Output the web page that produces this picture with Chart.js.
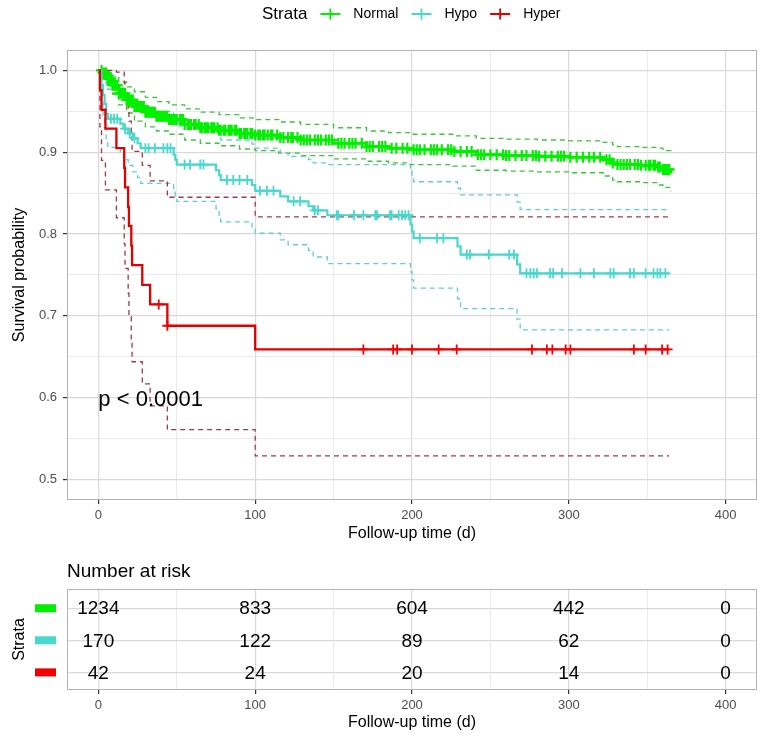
<!DOCTYPE html>
<html lang="en">
<head>
<meta charset="UTF-8">
<title>Survival curves</title>
<script src="https://cdn.jsdelivr.net/npm/chart.js"></script>
<style>
  body { margin: 0; background: #fff; }
  #wrap { position: relative; width: 765px; height: 746px; }
  #curves { position: absolute; left: 0; top: 0; }
  #risk { position: absolute; left: 0; top: 545px; }
</style>
</head>
<body>
<div id="wrap">
  <canvas id="curves" width="765" height="545"></canvas>
  <canvas id="risk" width="765" height="201"></canvas>
</div>

<script>
// ---- data ----
const strata = ['Normal', 'Hypo', 'Hyper'];

// Normal (n = 1234)
const normalTime  = [0, 3, 6, 9, 13, 18, 23, 30, 37, 45, 55, 65, 77, 90, 100, 115, 129, 150, 171, 185, 199, 226, 241, 260, 280, 300, 322, 328, 331, 345, 356, 360, 365];
const normalSurv  = [1, .997, .990, .982, .972, .964, .956, .949, .944, .940, .934, .930, .927, .923, .921, .918, .915, .911, .907, .905, .903, .901, .897, .896, .895, .894, .891, .887, .885, .884, .882, .879, .874];
const normalUpper = [1, 1, .998, .993, .986, .980, .974, .967, .962, .958, .953, .949, .946, .942, .940, .937, .934, .930, .926, .924, .922, .920, .917, .916, .915, .914, .912, .909, .907, .906, .905, .902, .899];
const normalLower = [1, .994, .982, .971, .958, .948, .938, .931, .926, .922, .915, .911, .908, .904, .902, .899, .896, .892, .889, .887, .885, .883, .878, .877, .876, .875, .871, .866, .864, .863, .860, .857, .852];
const normalCensor = [2, 3, 4, 5, 6, 7, 8, 9, 10, 11, 12, 13, 14, 15, 16, 17, 18, 19, 20, 21, 22, 23, 24, 25, 26, 27, 28, 29, 30, 31, 32, 33, 34, 35, 36, 37, 38, 39, 40, 41, 42, 43, 44, 45, 46, 47, 48, 49, 50, 52, 53, 54, 55, 57, 58, 59, 61, 62, 64, 65, 66, 68, 69, 70, 72, 73, 74, 76, 77, 78, 80, 81, 83, 84, 85, 87, 88, 90, 91, 93, 94, 95, 97, 98, 100, 102, 103, 105, 106, 108, 110, 111, 114, 116, 118, 121, 123, 124, 127, 129, 131, 133, 135, 138, 140, 142, 145, 147, 149, 153, 155, 157, 160, 162, 164, 168, 171, 173, 175, 179, 181, 183, 187, 190, 194, 197, 201, 203, 205, 208, 212, 214, 216, 219, 223, 225, 227, 231, 235, 238, 242, 244, 246, 250, 254, 258, 260, 262, 266, 270, 273, 277, 279, 281, 285, 289, 293, 295, 297, 301, 305, 309, 313, 316, 320, 324, 326, 328, 331, 333, 335, 337, 339, 342, 344, 346, 349, 351, 352, 354, 355, 357, 358, 360, 361, 362, 363, 364];

// Hypo (n = 170)
const hypoTime  = [0, 2, 3, 4, 5, 6, 14, 16, 19, 22, 25, 27, 48, 49, 50, 75, 77, 78, 98, 100, 116, 121, 134, 137, 146, 199, 200, 201, 229, 231, 267, 269, 364];
const hypoSurv  = [1, .982, .970, .959, .947, .941, .935, .929, .923, .917, .911, .905, .897, .891, .885, .878, .872, .866, .860, .853, .846, .840, .834, .829, .823, .812, .803, .795, .785, .775, .763, .752, .752];
const hypoUpper = [1, 1, .996, .990, .981, .977, .973, .969, .964, .960, .955, .950, .944, .938, .932, .926, .920, .915, .910, .905, .899, .895, .891, .887, .885, .877, .870, .864, .856, .848, .839, .830, .830];
const hypoLower = [1, .962, .945, .930, .914, .906, .899, .891, .884, .876, .869, .862, .853, .846, .840, .831, .823, .815, .808, .801, .793, .787, .780, .772, .764, .754, .744, .734, .721, .709, .696, .683, .683];
const hypoCensor = [8, 10, 12, 17, 20, 23, 30, 32, 36, 41.5, 44, 46, 55, 58.5, 65, 67, 82, 86, 90, 95, 103, 107.5, 111.7, 124.5, 128.7, 138, 140, 152, 153, 163, 169, 176.6, 177.7, 186, 187, 191.5, 193.6, 195.7, 197.8, 205, 216, 220, 235, 237, 249, 262, 265, 273, 275.5, 277.6, 279.7, 288, 290, 295.7, 307.4, 316, 326.5, 328.6, 339, 341.5, 349, 354, 356.5, 358.4, 361.6];

// Hyper (n = 42)
const hyperTime  = [0, 1, 2, 4.5, 11.5, 16.5, 17, 19, 19.5, 21, 21.5, 28, 33, 44, 100, 364];
const hyperSurv  = [1, .976, .952, .929, .905, .881, .857, .833, .810, .786, .762, .738, .714, .688, .659, .659];
const hyperUpper = [1, 1, 1, 1, .998, .985, .969, .954, .938, .920, .901, .884, .865, .845, .821, .821];
const hyperLower = [1, .931, .890, .854, .820, .788, .758, .728, .699, .671, .644, .617, .590, .561, .529, .529];
const hyperCensor = [38.5, 44, 169, 188, 190.5, 200, 217, 228.5, 276.5, 286, 289.5, 298, 301, 341.5, 349, 359.5, 363];

// number at risk
const riskTimes  = [0, 100, 200, 300, 400];
const riskNormal = [1234, 833, 604, 442, 0];
const riskHypo   = [170, 122, 89, 62, 0];
const riskHyper  = [42, 24, 20, 14, 0];

// axes
const xMajor = [0, 100, 200, 300, 400];
const xMinor = [50, 150, 250, 350];
const yMajor = [0.5, 0.6, 0.7, 0.8, 0.9, 1.0];
const yMinor = [0.55, 0.65, 0.75, 0.85, 0.95];

const pvalText = 'p < 0.0001';
const pvalX = 0;
const pvalY = 0.597;

// ---- styling ----
const FONT = '"Liberation Sans", Arial, Helvetica, sans-serif';
Chart.defaults.font.family = FONT;

const colNormal = '#00F000';
const colHypo = '#48D8CE';
const colHyper = '#E00000';
const ciNormal = '#3CC23C';
const ciHypo = '#62CEC8';
const ciHyper = '#9E3A48';

function pairs(times, values) {
    return times.map((t, i) => ({ x: t, y: values[i] }));
}

function survAt(times, values, t) {
    let s = values[0];
    for (let i = 0; i < times.length; i++) {
        if (times[i] <= t) s = values[i];
    }
    return s;
}

function censorPoints(times, values, marks) {
    return marks.map(t => ({ x: t, y: survAt(times, values, t) }));
}

function curve(data, color, width, order) {
    return { data: data, showLine: true, stepped: true, borderColor: color, borderWidth: width,
             pointRadius: 0, fill: false, order: order };
}

function ciLine(data, color, order) {
    return { data: data, showLine: true, stepped: true, borderColor: color, borderWidth: 1.3,
             borderDash: [5, 4], pointRadius: 0, fill: false, order: order };
}

function marks(data, color, size, width, order) {
    return { data: data, showLine: false, pointStyle: 'cross', pointRadius: size, pointHoverRadius: size,
             borderColor: color, backgroundColor: color, borderWidth: width, order: order };
}

function isIn(list, v) {
    return list.some(m => Math.abs(m - v) < 1e-6);
}

function xScaleOptions() {
    return {
        type: 'linear',
        min: -20,
        max: 420,
        afterBuildTicks: s => { s.ticks = xMajor.concat(xMinor).sort((a, b) => a - b).map(v => ({ value: v })); },
        ticks: {
            autoSkip: false, maxRotation: 0, padding: 4,
            color: '#4D4D4D', font: { size: 13 },
            callback: v => isIn(xMajor, v) ? String(v) : ''
        },
        grid: {
            color: c => isIn(xMajor, c.tick.value) ? '#D9D9D9' : '#E8E8E8',
            lineWidth: c => isIn(xMajor, c.tick.value) ? 1.2 : 0.9,
            tickColor: c => isIn(xMajor, c.tick.value) ? '#333333' : 'rgba(0,0,0,0)',
            tickLength: 4,
            drawTicks: true
        },
        border: { display: false },
        title: { display: true, text: 'Follow-up time (d)', color: '#000', font: { size: 16 }, padding: { top: 0, bottom: 2 } }
    };
}

const panelBorder = {
    id: 'panelBorder',
    afterDraw(chart) {
        const a = chart.chartArea, c = chart.ctx;
        c.save();
        c.strokeStyle = '#B3B3B3';
        c.lineWidth = 1;
        c.strokeRect(a.left + 0.5, a.top + 0.5, a.right - a.left - 1, a.bottom - a.top - 1);
        c.restore();
    }
};

// legend + p value on the survival panel
const curveExtras = {
    id: 'curveExtras',
    afterDraw(chart) {
        const c = chart.ctx;
        c.save();
        c.fillStyle = '#000';
        c.textBaseline = 'middle';
        c.textAlign = 'left';
        c.font = '17px ' + FONT;
        let x = 262;
        const y = 14;
        c.fillText('Strata', x, y);
        x += c.measureText('Strata').width + 13;
        const cols = [colNormal, colHypo, colHyper];
        strata.forEach((name, i) => {
            c.strokeStyle = cols[i];
            c.lineWidth = 1.8;
            c.beginPath();
            c.moveTo(x, y); c.lineTo(x + 20, y);
            c.moveTo(x + 10, y - 5.5); c.lineTo(x + 10, y + 5.5);
            c.stroke();
            x += 33;
            c.font = '14px ' + FONT;
            c.fillStyle = '#000';
            c.fillText(name, x, y);
            x += c.measureText(name).width + 13;
        });

        const xs = chart.scales.x, ys = chart.scales.y;
        c.font = '22px ' + FONT;
        c.fillText(pvalText, xs.getPixelForValue(pvalX), ys.getPixelForValue(pvalY));
        c.restore();
    }
};

const ctx = document.getElementById('curves');

let curvesChart = new Chart(ctx, {
    type: 'scatter',
    data: {
        datasets: [
            marks(censorPoints(hyperTime, hyperSurv, hyperCensor), '#F00000', 5, 1.8, 0),
            curve(pairs(hyperTime, hyperSurv), colHyper, 2.3, 1),
            marks(censorPoints(hypoTime, hypoSurv, hypoCensor), colHypo, 5, 1.8, 2),
            curve(pairs(hypoTime, hypoSurv), colHypo, 2.2, 3),
            marks(censorPoints(normalTime, normalSurv, normalCensor), colNormal, 5.5, 2.2, 4),
            curve(pairs(normalTime, normalSurv), colNormal, 3, 5),
            ciLine(pairs(hyperTime, hyperUpper), ciHyper, 6),
            ciLine(pairs(hyperTime, hyperLower), ciHyper, 7),
            ciLine(pairs(hypoTime, hypoUpper), ciHypo, 8),
            ciLine(pairs(hypoTime, hypoLower), ciHypo, 9),
            ciLine(pairs(normalTime, normalUpper), ciNormal, 10),
            ciLine(pairs(normalTime, normalLower), ciNormal, 11)
        ]
    },
    options: {
        responsive: false,
        animation: false,
        events: [],
        layout: { padding: { top: 50, right: 8, left: 0, bottom: 0 } },
        plugins: { legend: { display: false }, tooltip: { enabled: false } },
        scales: {
            x: Object.assign(xScaleOptions(), { afterFit: s => { s.height = 45; } }),
            y: {
                type: 'linear',
                min: 0.475,
                max: 1.025,
                afterFit: s => { s.width = 67; },
                afterBuildTicks: s => { s.ticks = yMajor.concat(yMinor).sort((a, b) => a - b).map(v => ({ value: v })); },
                ticks: {
                    autoSkip: false, padding: 6,
                    color: '#4D4D4D', font: { size: 13 },
                    callback: v => isIn(yMajor, v) ? v.toFixed(1) : ''
                },
                grid: {
                    color: c => isIn(yMajor, c.tick.value) ? '#D9D9D9' : '#E8E8E8',
                    lineWidth: c => isIn(yMajor, c.tick.value) ? 1.2 : 0.9,
                    tickColor: c => isIn(yMajor, c.tick.value) ? '#333333' : 'rgba(0,0,0,0)',
                    tickLength: 4,
                    drawTicks: true
                },
                border: { display: false },
                title: { display: true, text: 'Survival probability', color: '#000', font: { size: 16 }, padding: { top: 10, bottom: 0 } }
            }
        }
    },
    plugins: [panelBorder, curveExtras]
});

// ---- number at risk table ----
const riskRows = [3, 2, 1];
const riskCounts = [riskNormal, riskHypo, riskHyper];
const riskColors = ['#00EE00', '#48D8CE', '#F00000'];

const riskExtras = {
    id: 'riskExtras',
    afterDraw(chart) {
        const c = chart.ctx;
        const a = chart.chartArea;
        c.save();
        c.fillStyle = '#000';
        c.textBaseline = 'middle';
        c.textAlign = 'left';
        c.font = '19px ' + FONT;
        c.fillText('Number at risk', a.left, 27);

        c.textAlign = 'center';
        chart.data.datasets.forEach((ds, i) => {
            const meta = chart.getDatasetMeta(i);
            meta.data.forEach((pt, j) => {
                c.fillStyle = '#000';
                c.fillText(String(riskCounts[i][j]), pt.x, pt.y + 1);
            });
            const yy = chart.scales.y.getPixelForValue(riskRows[i]);
            c.fillStyle = riskColors[i];
            c.fillRect(35, yy - 4, 21, 8);
        });
        c.restore();
    }
};

const cty = document.getElementById('risk');

let riskChart = new Chart(cty, {
    type: 'scatter',
    data: {
        datasets: riskCounts.map((counts, i) => ({
            data: riskTimes.map(t => ({ x: t, y: riskRows[i] })),
            pointRadius: 0,
            showLine: false
        }))
    },
    options: {
        responsive: false,
        animation: false,
        events: [],
        layout: { padding: { top: 44, right: 8, left: 0, bottom: 0 } },
        plugins: { legend: { display: false }, tooltip: { enabled: false } },
        scales: {
            x: Object.assign(xScaleOptions(), {
                afterFit: s => { s.height = 56; },
                title: { display: true, text: 'Follow-up time (d)', color: '#000', font: { size: 16 }, padding: { top: 0, bottom: 14 } }
            }),
            y: {
                type: 'linear',
                min: 0.45,
                max: 3.6,
                afterFit: s => { s.width = 67; },
                afterBuildTicks: s => { s.ticks = [1, 2, 3].map(v => ({ value: v })); },
                ticks: { display: false },
                grid: { color: '#D9D9D9', lineWidth: 1.2, drawTicks: false },
                border: { display: false },
                title: { display: true, text: 'Strata', color: '#000', font: { size: 16 }, padding: { top: 10, bottom: 0 } }
            }
        }
    },
    plugins: [panelBorder, riskExtras]
});
</script>
</body>
</html>
